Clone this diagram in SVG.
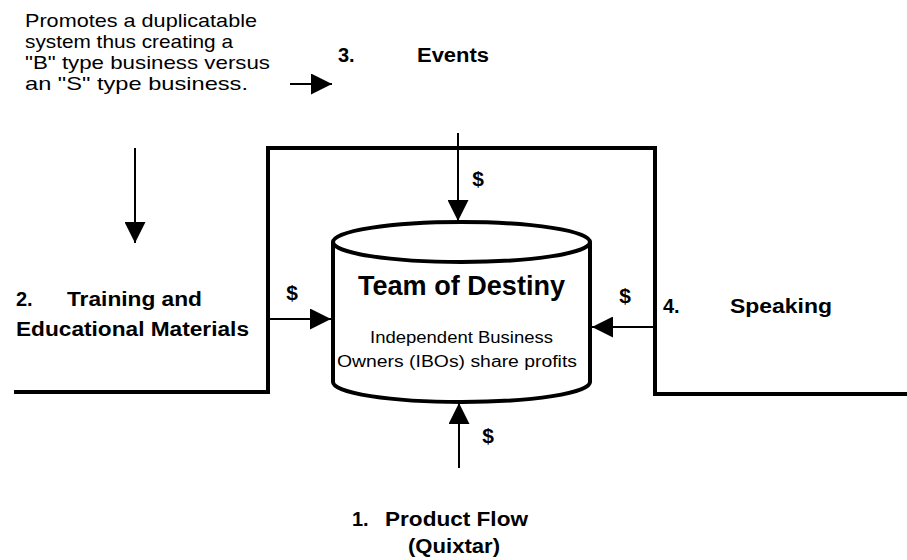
<svg xmlns="http://www.w3.org/2000/svg" width="907" height="560" viewBox="0 0 907 560">
  <style>
    .lbl { font-family: "Liberation Sans", Arial, sans-serif; fill: #000; }
    .b { font-weight: bold; }
    .note { font-family: "Liberation Sans", Arial, sans-serif; font-size: 19px; fill: #000; }
    .wire { fill: none; stroke: #000; stroke-width: 2; }
    .wall { fill: none; stroke: #000; stroke-width: 4; }
    .drum { fill: #fff; stroke: #000; stroke-width: 4; }
    .cash { font-family: "Liberation Sans", Arial, sans-serif; font-weight: bold; font-size: 21px; }
  </style>
  <defs>
    <marker id="head" viewBox="0 0 20 20" refX="20" refY="10" markerWidth="21" markerHeight="21" markerUnits="userSpaceOnUse" orient="auto">
      <path d="M0,0 L20,10 L0,20 z" fill="#000"/>
    </marker>
  </defs>

  <rect width="907" height="560" fill="#fff"/>

  <!-- boundary -->
  <path class="wall" d="M14,392 H268 V148 H655 V394 H907"/>

  <g id="connectors">
    <path class="wire" d="M290,84 H332" marker-end="url(#head)"/>
    <path class="wire" d="M135,148 V243" marker-end="url(#head)"/>
    <path class="wire" d="M458,133 V221" marker-end="url(#head)"/>
    <path class="wire" d="M268,319 H331" marker-end="url(#head)"/>
    <path class="wire" d="M653,327 H592" marker-end="url(#head)"/>
    <path class="wire" d="M459,468 V403" marker-end="url(#head)"/>
    <text class="cash" x="478" y="186" text-anchor="middle">$</text>
    <text class="cash" x="292" y="300" text-anchor="middle">$</text>
    <text class="cash" x="625" y="303" text-anchor="middle">$</text>
    <text class="cash" x="488" y="443" text-anchor="middle">$</text>
  </g>

  <g id="team">
    <path class="drum" d="M333,242 V382 A128.5,20 0 0 0 590,382 V242"/>
    <ellipse class="drum" cx="461.5" cy="242" rx="128.5" ry="20"/>
    <text class="lbl b" x="461.5" y="295" font-size="27" text-anchor="middle" textLength="207" lengthAdjust="spacingAndGlyphs">Team of Destiny</text>
    <text class="lbl" x="461.5" y="343" font-size="16" text-anchor="middle" textLength="183" lengthAdjust="spacingAndGlyphs">Independent Business</text>
    <text class="lbl" x="457" y="367" font-size="16" text-anchor="middle" textLength="240" lengthAdjust="spacingAndGlyphs">Owners (IBOs) share profits</text>
  </g>

  <g id="promo">
    <text class="note" x="25" y="27" textLength="232" lengthAdjust="spacingAndGlyphs">Promotes a duplicatable</text>
    <text class="note" x="25" y="48" textLength="208" lengthAdjust="spacingAndGlyphs">system  thus creating a</text>
    <text class="note" x="25" y="69" textLength="245" lengthAdjust="spacingAndGlyphs">"B" type business versus</text>
    <text class="note" x="25" y="90" textLength="223" lengthAdjust="spacingAndGlyphs">an "S" type business.</text>
  </g>

  <g id="events">
    <text class="lbl b" x="338" y="62" font-size="20">3.</text>
    <text class="lbl b" x="417" y="62" font-size="20" textLength="72" lengthAdjust="spacingAndGlyphs">Events</text>
  </g>

  <g id="training">
    <text class="lbl b" x="16" y="306" font-size="20">2.</text>
    <text class="lbl b" x="67" y="306" font-size="20" textLength="135" lengthAdjust="spacingAndGlyphs">Training and</text>
    <text class="lbl b" x="16" y="336" font-size="20" textLength="233" lengthAdjust="spacingAndGlyphs">Educational Materials</text>
  </g>

  <g id="speaking">
    <text class="lbl b" x="663" y="313" font-size="20">4.</text>
    <text class="lbl b" x="730" y="313" font-size="20" textLength="102" lengthAdjust="spacingAndGlyphs">Speaking</text>
  </g>

  <g id="product">
    <text class="lbl b" x="352" y="526" font-size="20">1.</text>
    <text class="lbl b" x="385" y="526" font-size="20" textLength="143" lengthAdjust="spacingAndGlyphs">Product Flow</text>
    <text class="lbl b" x="454" y="553" font-size="20" text-anchor="middle" textLength="92" lengthAdjust="spacingAndGlyphs">(Quixtar)</text>
  </g>
</svg>
